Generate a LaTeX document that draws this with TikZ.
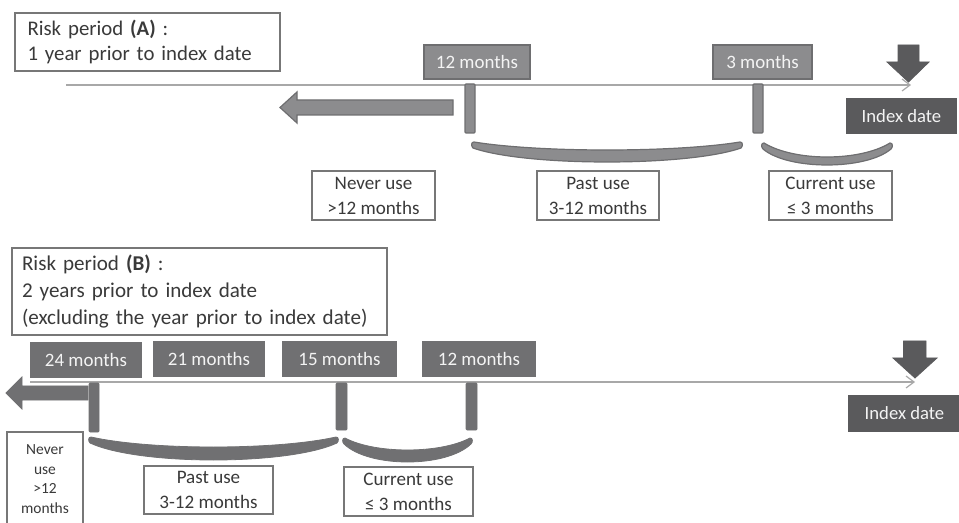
\documentclass[tikz,border=0pt]{standalone}
\usepackage{fontspec}
\setmainfont{Carlito}
\usetikzlibrary{arrows.meta}
\definecolor{tfill}{HTML}{8C8C8E}
\definecolor{tdraw}{HTML}{6E6E70}
\definecolor{bfill}{HTML}{707072}
\definecolor{dfill}{HTML}{5A5A5C}
\definecolor{wdraw}{HTML}{777777}
\definecolor{tline}{HTML}{A8A8A8}
\definecolor{txt}{HTML}{3A3A3A}
\definecolor{wtxt}{HTML}{F4F4F4}
% box node from pixel corners: name, style, L, T, R, B, text
\newcommand\bx[7]{\node[#2, minimum width={(#5-#3)*0.75pt}, minimum height={(#6-#4)*0.75pt}] (#1) at ({(#3+#5)/2},{(#4+#6)/2}) {#7};}
% crescent bracket: style, L, R, T, upper depth, lower depth
\newcommand\mycres[6]{\path[#1] ({#2+2},{#4}) .. controls ({#2+0.25*(#3-#2)},{#4+#5*4/3}) and ({#3-0.25*(#3-#2)},{#4+#5*4/3}) .. ({#3-2},{#4}) .. controls ({#3+1},{#4}) and ({#3+1},{#4+4}) .. ({#3-1},{#4+6}) .. controls ({#3-0.2*(#3-#2)},{#4+6+(#6-6)*4/3}) and ({#2+0.2*(#3-#2)},{#4+6+(#6-6)*4/3}) .. ({#2+1},{#4+6}) .. controls ({#2-1},{#4+4}) and ({#2-1},{#4}) .. cycle;}
\begin{document}
\begin{tikzpicture}[x=0.75pt,y=-0.75pt,
  wbox/.style={draw=wdraw, line width=1.3pt, fill=white, inner sep=0pt, text=txt, align=center, font=\fontsize{14.3}{18.75}\selectfont},
  riskbox/.style={draw=wdraw, line width=1.4pt, fill=white, inner sep=0pt, text=txt, align=left},
  tmbox/.style={fill=tfill, draw=tdraw, line width=0.9pt, inner sep=0pt, text=wtxt, font=\fontsize{14.2}{17}\selectfont},
  bmbox/.style={fill=bfill, draw=bfill, line width=0.9pt, inner sep=0pt, text=wtxt, font=\fontsize{14.2}{17}\selectfont},
  ibox/.style={fill=dfill, draw=dfill, line width=0.9pt, inner sep=0pt, text=wtxt, font=\fontsize{14}{17}\selectfont},
  ttick/.style={fill=tfill, draw=tdraw, line width=0.9pt, inner sep=0pt, rounded corners=0.8pt},
  btick/.style={fill=bfill, draw=bfill, line width=0.6pt, inner sep=0pt, rounded corners=0.8pt},
  tl/.style={draw=tline, line width=0.9pt, -{Straight Barb[length=6pt,width=9pt,line width=0.9pt]}},
  tshape/.style={fill=tfill, draw=tdraw, line width=0.9pt},
  bshape/.style={fill=bfill, draw=bfill, line width=0.6pt},
  dshape/.style={fill=dfill, draw=dfill, line width=0.6pt}]
\useasboundingbox (0,0) rectangle (959,523);

% ---------------- Section A ----------------
\bx{riskA}{riskbox, text width=180pt, font=\fontsize{15.6}{18.75}\selectfont}{15}{13}{280}{71}{Risk period \textbf{(A)} :\\1 year prior to index date}
\coordinate (tAs) at (66,85);
\coordinate (tAe) at (911,85);
\draw[tl] (tAs) -- (tAe);
\bx{m12A}{tmbox}{424}{45}{530}{79}{12 months}
\bx{m3A}{tmbox}{713}{45}{812}{79}{3 months}
\bx{tick12A}{ttick}{465}{84}{475}{133}{}
\bx{tick3A}{ttick}{753}{84}{763}{133}{}
\path[tshape] (453,100) -- (297,100) -- (297,92) -- (280,107.5) -- (297,123) -- (297,115) -- (453,115) -- cycle;
\path[dshape] (898,45) -- (919,45) -- (919,62) -- (929,62) -- (908.5,82) -- (887,62) -- (898,62) -- cycle;
\bx{idxA}{ibox}{847}{99}{956}{133}{Index date}
\mycres{tshape}{472}{742}{142}{8}{20}
\mycres{tshape}{762}{892}{143}{14}{22}
\bx{neverA}{wbox}{312}{171}{435}{220}{Never use\\>12 months}
\bx{pastA}{wbox}{537}{171}{659}{220}{Past use\\3-12 months}
\bx{currA}{wbox}{769}{171}{892}{220}{Current use\\≤ 3 months}

% ---------------- Section B ----------------
\bx{riskB}{riskbox, text width=266.25pt, font=\fontsize{15.8}{19.9}\selectfont}{12}{248}{387}{335}{Risk period \textbf{(B)} :\\2 years prior to index date\\(excluding the year prior to index date)}
\coordinate (tBs) at (30,382);
\coordinate (tBe) at (915,382);
\draw[tl] (tBs) -- (tBe);
\bx{m24B}{bmbox}{31}{343}{141}{377}{24 months}
\bx{m21B}{bmbox}{154}{342}{264}{376}{21 months}
\bx{m15B}{bmbox}{283}{342}{396}{376}{15 months}
\bx{m12B}{bmbox}{423}{342}{535}{376}{12 months}
\bx{tick24B}{btick}{89}{383}{99}{432}{}
\bx{tick15B}{btick}{336}{383}{347}{430}{}
\bx{tick12B}{btick}{466}{383}{477}{430}{}
\path[bshape] (88,386) -- (22,386) -- (22,377) -- (6,393) -- (22,409) -- (22,400) -- (88,400) -- cycle;
\path[dshape] (903.5,341) -- (926,341) -- (926,358) -- (937,358) -- (915,378) -- (893,358) -- (903.5,358) -- cycle;
\bx{idxB}{ibox}{849}{396}{960}{431}{Index date}
\mycres{bshape}{89}{338}{437}{10}{23}
\mycres{bshape}{343}{472}{438}{12}{24}
\bx{neverB}{wbox, font=\fontsize{11.6}{14.6}\selectfont}{7}{432}{83}{528}{\raisebox{-3pt}{\begin{tabular}{@{}c@{}}Never\\use\\>12\\months\end{tabular}}}
\bx{pastB}{wbox}{144}{466}{273}{514}{Past use\\3-12 months}
\bx{currB}{wbox}{344}{467}{473}{516}{Current use\\≤ 3 months}
\end{tikzpicture}
\end{document}
